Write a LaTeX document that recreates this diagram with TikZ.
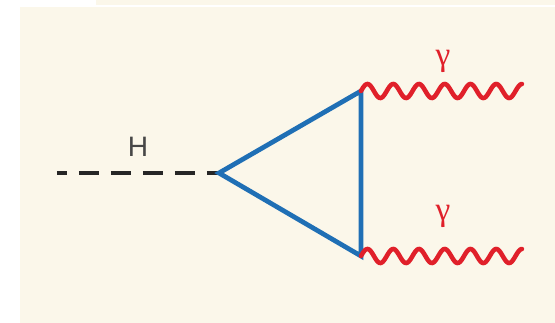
\documentclass[tikz,border=0pt]{standalone}
\usepackage{fontspec}
\setsansfont{Liberation Sans}
\newfontfamily\greekserif{Liberation Serif}
\usepackage{tikz}
\usetikzlibrary{calc, decorations.pathmorphing}

\definecolor{creambg}{HTML}{FBF7EA}
\definecolor{loopblue}{HTML}{1F6FB5}
\definecolor{photonred}{HTML}{E0202A}

\begin{document}
\begin{tikzpicture}[x=1cm, y=1cm]
  \useasboundingbox (0,0) rectangle (11.1,6.46);
  \fill[creambg] (0.4,0) rectangle (11.1,6.32);
  \fill[creambg] (1.92,6.36) rectangle (11.1,6.46);
  \coordinate (hin) at (1.14,3.0);
  \coordinate (v) at (4.38,3.0);
  \coordinate (t) at (7.22,4.64);
  \coordinate (b) at (7.22,1.34);
  \draw[line width=2.6pt, black!85, dash pattern=on 0.4cm off 0.24cm, dash phase=0.2cm] (hin)--(v);
  \draw[line width=2.7pt, loopblue, line join=miter] (v)--(t)--(b)--cycle;
  \draw[line width=2.6pt, photonred, line cap=round, shift={(t)}] plot[domain=0:3.22, samples=200, smooth] (\x, {0.14*sin(\x*360*6.25/3.22)});
  \draw[line width=2.6pt, photonred, line cap=round, shift={(b)}] plot[domain=0:3.22, samples=200, smooth] (\x, {0.14*sin(\x*360*6.25/3.22)});
  \node[font=\sffamily\fontsize{16}{18}\selectfont, text=black!72] (hlabel) at (2.76,3.52) {H};
  \node[font=\greekserif\fontsize{19}{22}\selectfont, text=photonred] (gtop) at (8.86,5.24) {γ};
  \node[font=\greekserif\fontsize{19}{22}\selectfont, text=photonred] (gbot) at (8.86,2.14) {γ};
\end{tikzpicture}
\end{document}
